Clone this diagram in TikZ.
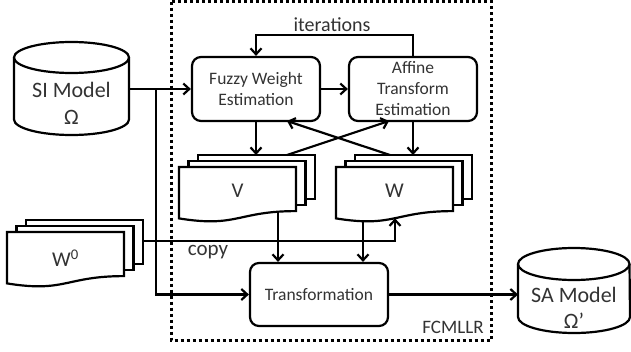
\documentclass[tikz,border=0pt]{standalone}
\usepackage{fontspec}
\setmainfont{Carlito}
\usetikzlibrary{arrows.meta,calc}
\definecolor{txt}{HTML}{333333}
\tikzset{
  box/.style={draw, line width=2.2pt, rounded corners=9pt, align=center,
    font=\fontsize{17.5}{21}\selectfont, text=txt, inner sep=0pt},
  arr/.style={line width=2.2pt, -{Straight Barb[length=6pt,width=11pt]}},
  page/.style={draw, fill=white, line width=2.2pt, line join=miter},
  lbl/.style={font=\fontsize{21}{25}\selectfont, text=txt, inner sep=0pt},
  cyl/.style={draw, fill=white, line width=2.2pt},
  frame/.style={line width=3pt, dash pattern=on 3pt off 3pt},
}
\newcommand\docstack[1]{%
  \begin{scope}[shift={#1}]
    \draw[page] (19,-12) rectangle (136,32.1);
    \draw[page] (9.5,-6) rectangle (126.5,38.1);
    \draw[page] (0,0) -- (117,0) -- (117,44.1)
      .. controls (58.5,44.1) and (58.5,60.9) .. (0,51.4) -- cycle;
  \end{scope}}
\begin{document}
\begin{tikzpicture}[x=1pt,y=-1pt]
\useasboundingbox (0,0) rectangle (631,351);
% FCMLLR frame
\draw[frame] (171,1.7) rectangle (491.5,340);
\node[font=\fontsize{19}{23}\selectfont, text=txt, inner sep=0pt] (fcmllr) at (453,327) {FCMLLR};

% SI model cylinder
\draw[cyl] (14,57.5) -- (14,119.5) arc[start angle=180, end angle=360, x radius=57.5pt, y radius=15.5pt] -- (129,57.5);
\draw[cyl] (71.5,57.5) ellipse [x radius=57.5pt, y radius=15.5pt];
\node[lbl, font=\fontsize{22}{27}\selectfont, align=center] (si) at (71.5,103) {SI Model\\Ω};
\coordinate (siE) at (129,89);
\coordinate (br1) at (156,89);

% SA model cylinder
\draw[cyl] (518,264) -- (518,317) arc[start angle=180, end angle=360, x radius=56pt, y radius=16pt] -- (629.5,264);
\draw[cyl] (573.75,264) ellipse [x radius=55.75pt, y radius=16pt];
\node[lbl, font=\fontsize{22}{26}\selectfont, align=center] (sa) at (574,308) {SA Model\\Ω’};
\coordinate (saW) at (518,294.5);

% process boxes
\node[box, minimum width=128pt, minimum height=64pt] (fwe) at (256,89) {Fuzzy Weight\\Estimation};
\node[box, minimum width=128pt, minimum height=64pt] (ate) at (413,89) {Affine\\Transform\\Estimation};
\node[box, minimum width=138pt, minimum height=63pt] (trans) at (319,294.5) {Transformation};

% document stacks
\docstack{(179,167)}
\node[lbl] (V) at (237.5,191) {V};
\docstack{(336,167)}
\node[lbl] (W) at (394.5,191) {W};
\docstack{(7,232)}
\node[lbl] (W0) at (65.5,258) {W\textsuperscript{0}};

\coordinate (vT) at (256,155);
\coordinate (wT) at (413,155);
\coordinate (vX) at (287,155);
\coordinate (wX) at (390,155);
\coordinate (ateX) at (389,121);
\coordinate (fweX) at (287,121);
\coordinate (vB) at (278,211.8);
\coordinate (wB) at (363,221);
\coordinate (w0R) at (143,241);
\coordinate (wC) at (395,218.3);
\coordinate (itc) at (335,35);

% connectors
\draw[arr] (siE) -- (fwe.west);
\draw[arr] (br1) |- (trans.west);
\draw[arr] (fwe.east) -- (ate.west);
\draw[arr] (ate.north) |- (itc) -| (fwe.north);
\node[lbl, font=\fontsize{20}{24}\selectfont] (it) at (332,25) {iterations};
\draw[arr] (fwe.south) -- (vT);
\draw[arr] (ate.south) -- (wT);
\draw[arr] (vX) -- (ateX);
\draw[arr] (wX) -- (fweX);
\draw[arr] (vB) -- (vB |- trans.north);
\draw[arr] (wB) -- (wB |- trans.north);
\draw[arr] (w0R) -| (wC);
\node[lbl] (copy) at (208,252) {copy};
\draw[arr] (trans.east) -- (saW);
\end{tikzpicture}
\end{document}
